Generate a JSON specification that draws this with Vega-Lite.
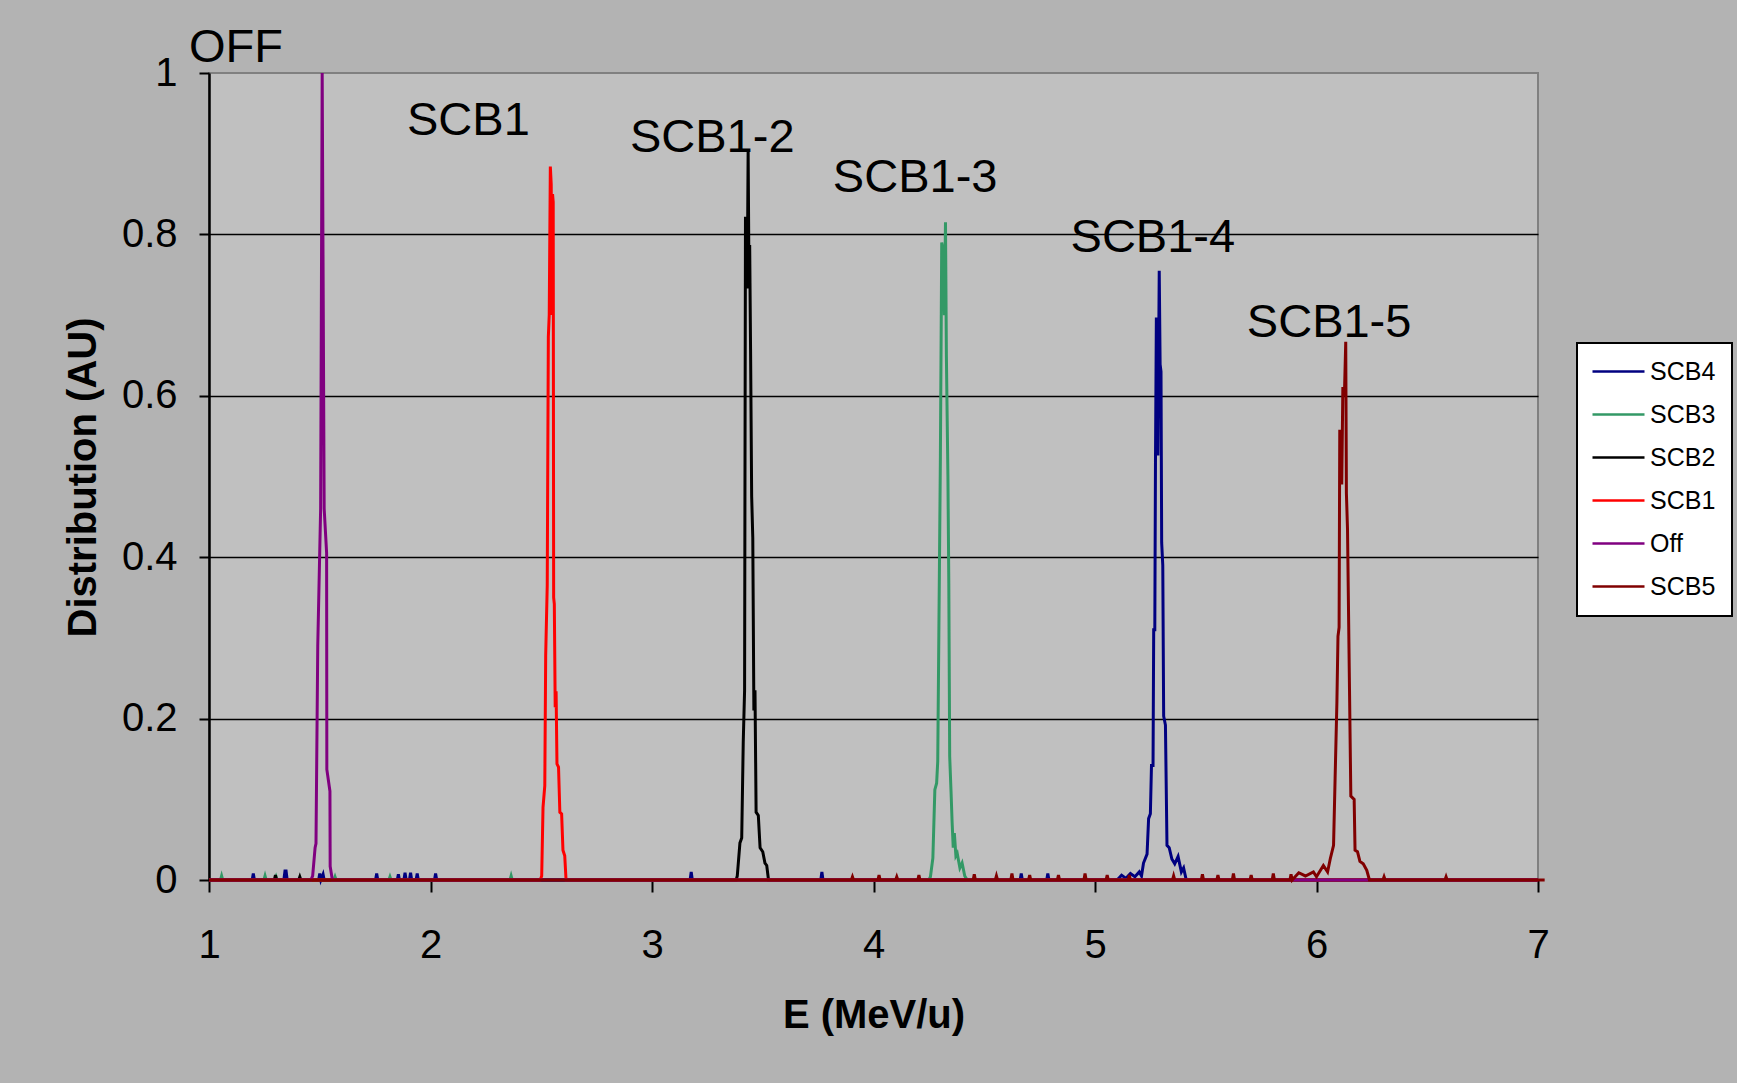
{
"$schema": "https://vega.github.io/schema/vega-lite/v6.json",
"width": 1329, "height": 807,
"autosize": "none",
"padding": {"left": 209, "top": 73, "right": 199, "bottom": 203},
"background": "#b3b3b3",
"config": {
  "font": "Liberation Sans",
  "view": {"fill": "#c0c0c0", "stroke": "#808080", "strokeWidth": 2},
  "legend": {"strokeColor": "black", "strokeWidth": 2, "fillColor": "white", "cornerRadius": 0}
},
"datasets": {
"spec": [
{"s":"SCB4","E":1,"D":0},{"s":"SCB4","E":1.195,"D":0},{"s":"SCB4","E":1.2,"D":0.008},{"s":"SCB4","E":1.205,"D":0},{"s":"SCB4","E":1.338,"D":0},{"s":"SCB4","E":1.343,"D":0.011},{"s":"SCB4","E":1.348,"D":0.011},{"s":"SCB4","E":1.353,"D":0},{"s":"SCB4","E":1.495,"D":0},{"s":"SCB4","E":1.5,"D":0.008},{"s":"SCB4","E":1.505,"D":0},{"s":"SCB4","E":1.515,"D":0.007},{"s":"SCB4","E":1.52,"D":0},{"s":"SCB4","E":1.752,"D":0},{"s":"SCB4","E":1.757,"D":0.008},{"s":"SCB4","E":1.762,"D":0},{"s":"SCB4","E":1.85,"D":0},{"s":"SCB4","E":1.855,"D":0.007},{"s":"SCB4","E":1.86,"D":0},{"s":"SCB4","E":1.88,"D":0},{"s":"SCB4","E":1.885,"D":0.009},{"s":"SCB4","E":1.89,"D":0},{"s":"SCB4","E":1.905,"D":0},{"s":"SCB4","E":1.91,"D":0.009},{"s":"SCB4","E":1.915,"D":0},{"s":"SCB4","E":1.935,"D":0},{"s":"SCB4","E":1.94,"D":0.008},{"s":"SCB4","E":1.945,"D":0},{"s":"SCB4","E":2.018,"D":0},{"s":"SCB4","E":2.023,"D":0.008},{"s":"SCB4","E":2.028,"D":0},{"s":"SCB4","E":3.172,"D":0},{"s":"SCB4","E":3.177,"D":0.01},{"s":"SCB4","E":3.182,"D":0},{"s":"SCB4","E":3.762,"D":0},{"s":"SCB4","E":3.767,"D":0.01},{"s":"SCB4","E":3.772,"D":0},{"s":"SCB4","E":4.662,"D":0},{"s":"SCB4","E":4.667,"D":0.008},{"s":"SCB4","E":4.672,"D":0},{"s":"SCB4","E":4.782,"D":0},{"s":"SCB4","E":4.787,"D":0.008},{"s":"SCB4","E":4.792,"D":0},{"s":"SCB4","E":5.1,"D":0},{"s":"SCB4","E":5.12,"D":0.006},{"s":"SCB4","E":5.14,"D":0.002},{"s":"SCB4","E":5.16,"D":0.008},{"s":"SCB4","E":5.18,"D":0.004},{"s":"SCB4","E":5.2,"D":0.01},{"s":"SCB4","E":5.21,"D":0.005},{"s":"SCB4","E":5.219,"D":0.021},{"s":"SCB4","E":5.235,"D":0.032},{"s":"SCB4","E":5.242,"D":0.076},{"s":"SCB4","E":5.25,"D":0.082},{"s":"SCB4","E":5.255,"D":0.142},{"s":"SCB4","E":5.262,"D":0.142},{"s":"SCB4","E":5.265,"D":0.31},{"s":"SCB4","E":5.27,"D":0.31},{"s":"SCB4","E":5.273,"D":0.517},{"s":"SCB4","E":5.277,"D":0.697},{"s":"SCB4","E":5.281,"D":0.69},{"s":"SCB4","E":5.284,"D":0.526},{"s":"SCB4","E":5.29,"D":0.755},{"s":"SCB4","E":5.294,"D":0.639},{"s":"SCB4","E":5.298,"D":0.63},{"s":"SCB4","E":5.301,"D":0.418},{"s":"SCB4","E":5.306,"D":0.39},{"s":"SCB4","E":5.31,"D":0.203},{"s":"SCB4","E":5.318,"D":0.192},{"s":"SCB4","E":5.325,"D":0.043},{"s":"SCB4","E":5.335,"D":0.04},{"s":"SCB4","E":5.347,"D":0.026},{"s":"SCB4","E":5.36,"D":0.02},{"s":"SCB4","E":5.375,"D":0.029},{"s":"SCB4","E":5.39,"D":0.01},{"s":"SCB4","E":5.4,"D":0.015},{"s":"SCB4","E":5.412,"D":0},{"s":"SCB4","E":7,"D":0},
{"s":"SCB3","E":1,"D":0},{"s":"SCB3","E":1.052,"D":0},{"s":"SCB3","E":1.057,"D":0.005},{"s":"SCB3","E":1.062,"D":0},{"s":"SCB3","E":1.248,"D":0},{"s":"SCB3","E":1.253,"D":0.005},{"s":"SCB3","E":1.258,"D":0},{"s":"SCB3","E":1.298,"D":0},{"s":"SCB3","E":1.303,"D":0.004},{"s":"SCB3","E":1.308,"D":0},{"s":"SCB3","E":1.564,"D":0},{"s":"SCB3","E":1.569,"D":0.004},{"s":"SCB3","E":1.574,"D":0},{"s":"SCB3","E":1.812,"D":0},{"s":"SCB3","E":1.817,"D":0.004},{"s":"SCB3","E":1.822,"D":0},{"s":"SCB3","E":2.359,"D":0},{"s":"SCB3","E":2.364,"D":0.005},{"s":"SCB3","E":2.369,"D":0},{"s":"SCB3","E":4.25,"D":0},{"s":"SCB3","E":4.257,"D":0.004},{"s":"SCB3","E":4.268,"D":0.027},{"s":"SCB3","E":4.277,"D":0.112},{"s":"SCB3","E":4.285,"D":0.12},{"s":"SCB3","E":4.29,"D":0.147},{"s":"SCB3","E":4.295,"D":0.304},{"s":"SCB3","E":4.302,"D":0.525},{"s":"SCB3","E":4.308,"D":0.79},{"s":"SCB3","E":4.315,"D":0.78},{"s":"SCB3","E":4.32,"D":0.7},{"s":"SCB3","E":4.325,"D":0.815},{"s":"SCB3","E":4.329,"D":0.651},{"s":"SCB3","E":4.336,"D":0.5},{"s":"SCB3","E":4.34,"D":0.367},{"s":"SCB3","E":4.344,"D":0.153},{"s":"SCB3","E":4.35,"D":0.11},{"s":"SCB3","E":4.355,"D":0.071},{"s":"SCB3","E":4.36,"D":0.04},{"s":"SCB3","E":4.365,"D":0.058},{"s":"SCB3","E":4.372,"D":0.03},{"s":"SCB3","E":4.378,"D":0.033},{"s":"SCB3","E":4.39,"D":0.015},{"s":"SCB3","E":4.4,"D":0.021},{"s":"SCB3","E":4.412,"D":0.005},{"s":"SCB3","E":4.423,"D":0},{"s":"SCB3","E":7,"D":0},
{"s":"SCB2","E":1,"D":0},{"s":"SCB2","E":1.295,"D":0},{"s":"SCB2","E":1.3,"D":0.006},{"s":"SCB2","E":1.305,"D":0},{"s":"SCB2","E":1.405,"D":0},{"s":"SCB2","E":1.41,"D":0.004},{"s":"SCB2","E":1.415,"D":0},{"s":"SCB2","E":3.38,"D":0},{"s":"SCB2","E":3.385,"D":0.005},{"s":"SCB2","E":3.397,"D":0.046},{"s":"SCB2","E":3.405,"D":0.052},{"s":"SCB2","E":3.412,"D":0.172},{"s":"SCB2","E":3.418,"D":0.235},{"s":"SCB2","E":3.422,"D":0.822},{"s":"SCB2","E":3.426,"D":0.8},{"s":"SCB2","E":3.43,"D":0.733},{"s":"SCB2","E":3.434,"D":0.904},{"s":"SCB2","E":3.438,"D":0.74},{"s":"SCB2","E":3.441,"D":0.787},{"s":"SCB2","E":3.445,"D":0.658},{"s":"SCB2","E":3.45,"D":0.475},{"s":"SCB2","E":3.455,"D":0.424},{"s":"SCB2","E":3.46,"D":0.21},{"s":"SCB2","E":3.465,"D":0.235},{"s":"SCB2","E":3.47,"D":0.084},{"s":"SCB2","E":3.48,"D":0.08},{"s":"SCB2","E":3.488,"D":0.04},{"s":"SCB2","E":3.5,"D":0.035},{"s":"SCB2","E":3.51,"D":0.021},{"s":"SCB2","E":3.518,"D":0.018},{"s":"SCB2","E":3.526,"D":0},{"s":"SCB2","E":7,"D":0},
{"s":"SCB1","E":1,"D":0},{"s":"SCB1","E":2.495,"D":0},{"s":"SCB1","E":2.502,"D":0.005},{"s":"SCB1","E":2.508,"D":0.09},{"s":"SCB1","E":2.516,"D":0.117},{"s":"SCB1","E":2.52,"D":0.278},{"s":"SCB1","E":2.527,"D":0.365},{"s":"SCB1","E":2.532,"D":0.673},{"s":"SCB1","E":2.536,"D":0.7},{"s":"SCB1","E":2.541,"D":0.884},{"s":"SCB1","E":2.545,"D":0.862},{"s":"SCB1","E":2.548,"D":0.7},{"s":"SCB1","E":2.551,"D":0.85},{"s":"SCB1","E":2.554,"D":0.84},{"s":"SCB1","E":2.556,"D":0.35},{"s":"SCB1","E":2.559,"D":0.342},{"s":"SCB1","E":2.563,"D":0.214},{"s":"SCB1","E":2.567,"D":0.234},{"s":"SCB1","E":2.571,"D":0.144},{"s":"SCB1","E":2.578,"D":0.14},{"s":"SCB1","E":2.584,"D":0.084},{"s":"SCB1","E":2.592,"D":0.082},{"s":"SCB1","E":2.598,"D":0.037},{"s":"SCB1","E":2.606,"D":0.03},{"s":"SCB1","E":2.612,"D":0},{"s":"SCB1","E":7,"D":0},
{"s":"Off","E":1,"D":0},{"s":"Off","E":1.46,"D":0},{"s":"Off","E":1.468,"D":0.005},{"s":"Off","E":1.479,"D":0.04},{"s":"Off","E":1.483,"D":0.045},{"s":"Off","E":1.491,"D":0.29},{"s":"Off","E":1.504,"D":0.46},{"s":"Off","E":1.511,"D":1},{"s":"Off","E":1.52,"D":0.46},{"s":"Off","E":1.531,"D":0.405},{"s":"Off","E":1.532,"D":0.137},{"s":"Off","E":1.546,"D":0.11},{"s":"Off","E":1.547,"D":0.017},{"s":"Off","E":1.557,"D":0},{"s":"Off","E":7,"D":0},
{"s":"SCB5","E":1,"D":0},{"s":"SCB5","E":3.9,"D":0},{"s":"SCB5","E":3.905,"D":0.004},{"s":"SCB5","E":3.91,"D":0},{"s":"SCB5","E":4.02,"D":0},{"s":"SCB5","E":4.025,"D":0.006},{"s":"SCB5","E":4.03,"D":0},{"s":"SCB5","E":4.1,"D":0},{"s":"SCB5","E":4.105,"D":0.004},{"s":"SCB5","E":4.11,"D":0},{"s":"SCB5","E":4.2,"D":0},{"s":"SCB5","E":4.205,"D":0.006},{"s":"SCB5","E":4.21,"D":0},{"s":"SCB5","E":4.45,"D":0},{"s":"SCB5","E":4.455,"D":0.007},{"s":"SCB5","E":4.46,"D":0},{"s":"SCB5","E":4.55,"D":0},{"s":"SCB5","E":4.555,"D":0.005},{"s":"SCB5","E":4.56,"D":0},{"s":"SCB5","E":4.62,"D":0},{"s":"SCB5","E":4.625,"D":0.008},{"s":"SCB5","E":4.63,"D":0},{"s":"SCB5","E":4.7,"D":0},{"s":"SCB5","E":4.705,"D":0.006},{"s":"SCB5","E":4.71,"D":0},{"s":"SCB5","E":4.83,"D":0},{"s":"SCB5","E":4.835,"D":0.006},{"s":"SCB5","E":4.84,"D":0},{"s":"SCB5","E":4.95,"D":0},{"s":"SCB5","E":4.955,"D":0.008},{"s":"SCB5","E":4.96,"D":0},{"s":"SCB5","E":5.05,"D":0},{"s":"SCB5","E":5.055,"D":0.006},{"s":"SCB5","E":5.06,"D":0},{"s":"SCB5","E":5.15,"D":0},{"s":"SCB5","E":5.155,"D":0.006},{"s":"SCB5","E":5.16,"D":0},{"s":"SCB5","E":5.35,"D":0},{"s":"SCB5","E":5.355,"D":0.005},{"s":"SCB5","E":5.36,"D":0},{"s":"SCB5","E":5.48,"D":0},{"s":"SCB5","E":5.485,"D":0.007},{"s":"SCB5","E":5.49,"D":0},{"s":"SCB5","E":5.55,"D":0},{"s":"SCB5","E":5.555,"D":0.006},{"s":"SCB5","E":5.56,"D":0},{"s":"SCB5","E":5.62,"D":0},{"s":"SCB5","E":5.625,"D":0.008},{"s":"SCB5","E":5.63,"D":0},{"s":"SCB5","E":5.7,"D":0},{"s":"SCB5","E":5.705,"D":0.006},{"s":"SCB5","E":5.71,"D":0},{"s":"SCB5","E":5.8,"D":0},{"s":"SCB5","E":5.805,"D":0.008},{"s":"SCB5","E":5.81,"D":0},{"s":"SCB5","E":5.88,"D":0},{"s":"SCB5","E":5.885,"D":0.007},{"s":"SCB5","E":5.89,"D":0},{"s":"SCB5","E":5.92,"D":0.009},{"s":"SCB5","E":5.95,"D":0.005},{"s":"SCB5","E":5.986,"D":0.01},{"s":"SCB5","E":6,"D":0.004},{"s":"SCB5","E":6.031,"D":0.018},{"s":"SCB5","E":6.05,"D":0.01},{"s":"SCB5","E":6.062,"D":0.026},{"s":"SCB5","E":6.077,"D":0.043},{"s":"SCB5","E":6.084,"D":0.126},{"s":"SCB5","E":6.092,"D":0.219},{"s":"SCB5","E":6.097,"D":0.302},{"s":"SCB5","E":6.102,"D":0.313},{"s":"SCB5","E":6.105,"D":0.556},{"s":"SCB5","E":6.11,"D":0.556},{"s":"SCB5","E":6.114,"D":0.49},{"s":"SCB5","E":6.119,"D":0.611},{"s":"SCB5","E":6.126,"D":0.6},{"s":"SCB5","E":6.132,"D":0.667},{"s":"SCB5","E":6.135,"D":0.479},{"s":"SCB5","E":6.14,"D":0.435},{"s":"SCB5","E":6.149,"D":0.236},{"s":"SCB5","E":6.155,"D":0.104},{"s":"SCB5","E":6.17,"D":0.1},{"s":"SCB5","E":6.174,"D":0.037},{"s":"SCB5","E":6.185,"D":0.035},{"s":"SCB5","E":6.196,"D":0.023},{"s":"SCB5","E":6.211,"D":0.02},{"s":"SCB5","E":6.227,"D":0.012},{"s":"SCB5","E":6.239,"D":0},{"s":"SCB5","E":6.3,"D":0},{"s":"SCB5","E":6.305,"D":0.004},{"s":"SCB5","E":6.31,"D":0},{"s":"SCB5","E":6.58,"D":0},{"s":"SCB5","E":6.585,"D":0.004},{"s":"SCB5","E":6.59,"D":0},{"s":"SCB5","E":7.03,"D":0}
],
"labels": [
{"t":"OFF","E":1.122,"D":1.014},
{"t":"SCB1","E":2.171,"D":0.923},
{"t":"SCB1-2","E":3.272,"D":0.9025},
{"t":"SCB1-3","E":4.188,"D":0.853},
{"t":"SCB1-4","E":5.261,"D":0.7786},
{"t":"SCB1-5","E":6.057,"D":0.6732}
]
},
"layer": [
{
"data": {"name": "spec"},
"mark": {"type": "line", "strokeWidth": 3, "clip": false},
"encoding": {
  "x": {"field": "E", "type": "quantitative",
    "scale": {"domain": [1, 7], "nice": false, "zero": false},
    "axis": {"title": "E (MeV/u)", "values": [1,2,3,4,5,6,7], "format": "~g", "grid": false, "labelFlush": false,
      "domainColor": "black", "domainWidth": 2, "tickColor": "black", "tickWidth": 2, "tickSize": 12,
      "labelFontSize": 40, "labelPadding": 33, "labelColor": "black",
      "titleFontSize": 40, "titleFontWeight": "bold", "titleColor": "black",
      "titleBaseline": "alphabetic", "titleY": 147}},
  "y": {"field": "D", "type": "quantitative",
    "scale": {"domain": [0, 1], "nice": false},
    "axis": {"title": "Distribution (AU)", "values": [0,0.2,0.4,0.6,0.8,1], "format": "~g",
      "grid": true, "gridColor": {"condition": {"test": "datum.value === 1 || datum.value === 0", "value": "transparent"}, "value": "black"},
      "gridWidth": 1.5,
      "domainColor": "black", "domainWidth": 2.5, "tickColor": "black", "tickWidth": 2, "tickSize": 10,
      "labelFontSize": 40, "labelPadding": 22, "labelColor": "black",
      "titleFontSize": 40, "titleFontWeight": "bold", "titleColor": "black",
      "titleBaseline": "alphabetic", "titleX": -114, "titleY": 404}},
  "color": {"field": "s", "type": "nominal",
    "scale": {"domain": ["SCB4","SCB3","SCB2","SCB1","Off","SCB5"],
              "range": ["#000080","#339966","#000000","#ff0000","#800080","#800000"]},
    "legend": {"orient": "none", "legendX": 1368, "legendY": 270, "title": null,
      "symbolType": "M-2.6,0L2.6,0", "symbolSize": 400, "symbolStrokeWidth": 2.5, "symbolOffset": 13,
      "labelFontSize": 25, "labelColor": "black", "labelOffset": 19, "padding": 16, "rowPadding": 17}}
}
},
{
"data": {"name": "labels"},
"mark": {"type": "text", "fontSize": 47, "baseline": "alphabetic", "align": "center", "color": "black"},
"encoding": {
  "x": {"field": "E", "type": "quantitative"},
  "y": {"field": "D", "type": "quantitative"},
  "text": {"field": "t"}
}
}
]
}
